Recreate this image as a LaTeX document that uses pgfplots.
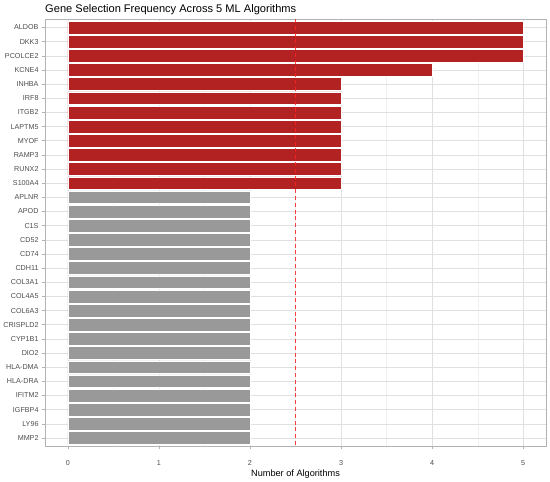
\documentclass[border=0pt]{standalone}
\usepackage{pgfplots}
\pgfplotsset{compat=1.18}
\usepackage{pgfplotstable}
\usepackage{fontspec}
\setmainfont{Liberation Sans}
\usetikzlibrary{calc}
\definecolor{barred}{HTML}{B22222}
\definecolor{bargrey}{HTML}{999999}
\definecolor{gridmaj}{HTML}{E0E0E0}
\definecolor{gridmin}{HTML}{EFEFEF}
\definecolor{framec}{HTML}{B3B3B3}
\definecolor{ticklab}{HTML}{4D4D4D}
\definecolor{vred}{HTML}{FF2020}
\pgfplotstableread{
idx val
1 5
2 5
3 5
4 4
5 3
6 3
7 3
8 3
9 3
10 3
11 3
12 3
}\redtab
\pgfplotstableread{
idx val
13 2
14 2
15 2
16 2
17 2
18 2
19 2
20 2
21 2
22 2
23 2
24 2
25 2
26 2
27 2
28 2
29 2
30 2
}\greytab
\pgfplotstableread{
x y
2.5 0.4
2.5 30.6
}\vlinetab
\begin{document}
\begin{tikzpicture}
\begin{axis}[
  name=ax, at={(0,0)}, anchor=south west,
  scale only axis, width=500.5bp, height=427bp,
  xmin=-0.25, xmax=5.25, ymin=0.4, ymax=30.6, y dir=reverse,
  xtick={0,1,2,3,4,5}, minor xtick={0.5,1.5,2.5,3.5,4.5},
  ytick={1,...,30},
  yticklabels={ALDOB,DKK3,PCOLCE2,KCNE4,INHBA,IRF8,ITGB2,LAPTM5,MYOF,RAMP3,RUNX2,S100A4,APLNR,APOD,C1S,CD52,CD74,CDH11,COL3A1,COL4A5,COL6A3,CRISPLD2,CYP1B1,DIO2,HLA-DMA,HLA-DRA,IFITM2,IGFBP4,LY96,MMP2},
  xtick pos=lower, ytick pos=left,
  /pgf/number format/assume math mode=true,
  grid=both,
  major grid style={gridmaj, line width=0.5bp},
  minor grid style={gridmin, line width=0.35bp},
  axis line style={framec, line width=0.9bp},
  major tick style={framec, line width=0.5bp},
  tick align=outside, major tick length=3bp, minor tick length=0pt,
  xticklabel style={font=\fontsize{7.2}{8}\selectfont, text=ticklab, anchor=north, yshift=-8bp},
  yticklabel style={font=\fontsize{7.2}{8}\selectfont, text=ticklab},
  xlabel={Number of Algorithms},
  xlabel style={font=\fontsize{9.2}{11}\selectfont, at={(0.5,0)}, anchor=base, yshift=-30bp},
]
\addplot[xbar, bar width=0.9, bar shift=0pt, fill=barred, draw=white, line width=0.5bp] table[x=val, y=idx] {\redtab};
\addplot[xbar, bar width=0.9, bar shift=0pt, fill=bargrey, draw=white, line width=0.5bp] table[x=val, y=idx] {\greytab};
\addplot[draw=vred, draw opacity=0.85, no marks, line width=1.6bp, dash pattern=on 4bp off 2.8bp] table[x=x, y=y] {\vlinetab};
\end{axis}
\node[anchor=base west, inner sep=0pt, font=\fontsize{11.1}{13}\selectfont] at ($(ax.north west)+(0,6.5bp)$) {Gene Selection Frequency Across 5 ML Algorithms};
\pgfresetboundingbox
\path ($(ax.south west)+(-45bp,-35bp)$) rectangle ($(ax.north east)+(4bp,19bp)$);
\end{tikzpicture}
\end{document}
